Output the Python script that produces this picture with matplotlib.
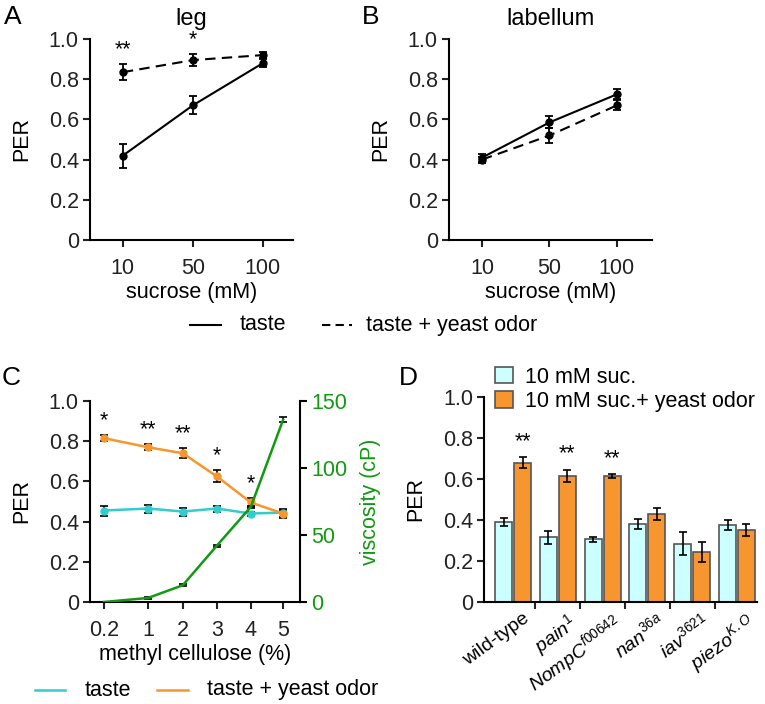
import numpy as np
import matplotlib.pyplot as plt
import matplotlib.transforms as mtransforms

plt.rcParams['font.family'] = ['Liberation Sans', 'DejaVu Sans']
plt.rcParams['mathtext.fontset'] = 'custom'
plt.rcParams['mathtext.rm'] = 'Liberation Sans'
plt.rcParams['mathtext.it'] = 'Liberation Sans:italic'
plt.rcParams['font.size'] = 15

FS = 15.5

# panel A / B: sucrose
sucrose = ['10', '50', '100']
leg_taste = [0.42, 0.67, 0.88]
leg_taste_err = [0.06, 0.045, 0.02]
leg_odor = [0.835, 0.895, 0.92]
leg_odor_err = [0.04, 0.03, 0.015]
leg_stars = ['**', '*', '']

lab_taste = [0.41, 0.585, 0.725]
lab_taste_err = [0.02, 0.03, 0.025]
lab_odor = [0.40, 0.52, 0.67]
lab_odor_err = [0.015, 0.035, 0.025]

# panel C: methyl cellulose
mc = ['0.2', '1', '2', '3', '4', '5']
mc_taste = [0.455, 0.465, 0.45, 0.465, 0.44, 0.445]
mc_taste_err = [0.025, 0.02, 0.02, 0.015, 0.01, 0.02]
mc_odor = [0.815, 0.77, 0.74, 0.625, 0.495, 0.44]
mc_odor_err = [0.015, 0.015, 0.025, 0.03, 0.02, 0.02]
mc_stars = ['*', '**', '**', '*', '*', '']
viscosity = [0, 3, 12.5, 42, 71, 136]
viscosity_err = [0, 0.8, 0.8, 0.8, 1, 2]

# panel D: mutants
genotypes = ['wild-type', r'$\mathit{pain}^{\mathit{1}}$', r'$\mathit{NompC}^{\mathit{f00642}}$',
             r'$\mathit{nan}^{\mathit{36a}}$', r'$\mathit{iav}^{\mathit{3621}}$', r'$\mathit{piezo}^{\mathit{K.O}}$']
suc = [0.39, 0.315, 0.305, 0.38, 0.285, 0.375]
suc_err = [0.02, 0.03, 0.01, 0.025, 0.055, 0.025]
suc_odor = [0.68, 0.615, 0.615, 0.43, 0.245, 0.35]
suc_odor_err = [0.025, 0.03, 0.01, 0.03, 0.05, 0.03]
d_stars = ['**', '**', '**', '', '', '']

CYAN = '#33cccc'
ORANGE = '#f7962e'
GREEN = '#129912'

fig = plt.figure(figsize=(7.65, 7.04), dpi=100)


def style(ax):
    ax.spines['top'].set_visible(False)
    ax.spines['right'].set_visible(False)
    ax.spines['left'].set_linewidth(1.5)
    ax.spines['bottom'].set_linewidth(1.5)
    ax.tick_params(direction='out', length=5, width=1.5, labelsize=FS, colors='#222222', pad=3)
    ax.set_ylim(0, 1.0)
    ax.set_yticks([0, 0.2, 0.4, 0.6, 0.8, 1.0])
    ax.set_yticklabels(['0', '0.2', '0.4', '0.6', '0.8', '1.0'])
    ax.set_ylabel('PER', fontsize=FS, labelpad=12)


def sucrose_panel(rect, taste, terr, odor, oerr, title, xlim, stars=None):
    ax = fig.add_axes(rect)
    style(ax)
    x = np.arange(len(sucrose))
    ax.errorbar(x, taste, yerr=terr, color='black', lw=1.5, marker='o', ms=5,
                capsize=3, elinewidth=1.3, capthick=1.3, clip_on=False)
    ax.errorbar(x, odor, yerr=oerr, color='black', lw=1.5, ls=(0, (5, 3)), marker='o', ms=5,
                capsize=3, elinewidth=1.3, capthick=1.3, clip_on=False)
    ax.set_xticks(x)
    ax.set_xticklabels(sucrose)
    ax.tick_params(axis='x', pad=8)
    ax.set_xlim(*xlim)
    ax.set_xlabel('sucrose (mM)', fontsize=FS, labelpad=2)
    ax.set_title(title, fontsize=17, pad=10)
    if stars:
        for xi, s, v, e in zip(x, stars, odor, oerr):
            if s:
                ax.text(xi, v + e + 0.02, s, ha='center', va='bottom', fontsize=FS)
    return ax


axA = sucrose_panel([0.1176, 0.6591, 0.2654, 0.2855], leg_taste, leg_taste_err,
                    leg_odor, leg_odor_err, 'leg', (-0.47, 2.43), leg_stars)
axB = sucrose_panel([0.5869, 0.6591, 0.2654, 0.2855], lab_taste, lab_taste_err,
                    lab_odor, lab_odor_err, 'labellum', (-0.49, 2.52))

# legend A/B
ly = 1 - 325 / 704
fig.lines.append(plt.Line2D([190 / 765, 221 / 765], [ly] * 2, color='black', lw=1.5,
                            transform=fig.transFigure))
fig.text(240 / 765, ly, 'taste', va='center', fontsize=FS)
fig.lines.append(plt.Line2D([322 / 765, 352 / 765], [ly] * 2, color='black', lw=1.5,
                            ls=(0, (4, 2.5)), transform=fig.transFigure))
fig.text(366 / 765, ly, 'taste + yeast odor', va='center', fontsize=FS)

# panel C
axC = fig.add_axes([0.1176, 0.1449, 0.2745, 0.2855])
style(axC)
xc = [0, 1.23, 2.2, 3.15, 4.1, 5.0]
axC.errorbar(xc, mc_taste, yerr=mc_taste_err, color=CYAN, lw=1.8, marker='o', ms=5,
             ecolor='black', capsize=3, elinewidth=1.2, capthick=1.2)
axC.errorbar(xc, mc_odor, yerr=mc_odor_err, color=ORANGE, lw=1.8, marker='o', ms=5,
             ecolor='black', capsize=3, elinewidth=1.2, capthick=1.2)
for xi, s, v, e in zip(xc, mc_stars, mc_odor, mc_odor_err):
    if s:
        axC.text(xi, v + e + 0.02, s, ha='center', va='bottom', fontsize=FS)
axC.set_xticks(xc)
axC.set_xticklabels(mc)
axC.tick_params(axis='x', pad=8)
axC.set_xlim(-0.39, 5.47)
axC.set_xlabel('methyl cellulose (%)', fontsize=FS, labelpad=2)

axV = axC.twinx()
axV.errorbar(xc, viscosity, yerr=viscosity_err, color=GREEN, lw=1.8,
             ecolor='black', capsize=3, elinewidth=1.2, capthick=1.2, zorder=5)
axV.set_ylim(0, 150)
axV.set_yticks([0, 50, 100, 150])
axV.spines['top'].set_visible(False)
axV.spines['left'].set_visible(False)
axV.spines['bottom'].set_visible(False)
axV.spines['right'].set_linewidth(1.5)
axV.tick_params(direction='out', length=5, width=1.5, labelsize=FS, labelcolor=GREEN, pad=3)
axV.set_ylabel('viscosity (cP)', color=GREEN, fontsize=FS, labelpad=9)

# legend C
ly = 1 - 690 / 704
fig.lines.append(plt.Line2D([35 / 765, 65 / 765], [ly] * 2, color=CYAN, lw=1.8, transform=fig.transFigure))
fig.text(85 / 765, ly, 'taste', va='center', fontsize=FS)
fig.lines.append(plt.Line2D([157 / 765, 188 / 765], [ly] * 2, color=ORANGE, lw=1.8, transform=fig.transFigure))
fig.text(207 / 765, ly, 'taste + yeast odor', va='center', fontsize=FS)

# panel D
axD = fig.add_axes([0.6327, 0.1449, 0.3569, 0.2912])
style(axD)
xd = np.arange(len(genotypes))
w = 0.38
axD.bar(xd - 0.21, suc, w, color='#ccffff', edgecolor='#555555', lw=1.2, label='10 mM suc.')
axD.bar(xd + 0.21, suc_odor, w, color=ORANGE, edgecolor='#555555', lw=1.2, label='10 mM suc.+ yeast odor')
axD.errorbar(xd - 0.21, suc, yerr=suc_err, fmt='none', ecolor='black', capsize=3, elinewidth=1.2, capthick=1.2)
axD.errorbar(xd + 0.21, suc_odor, yerr=suc_odor_err, fmt='none', ecolor='black', capsize=3, elinewidth=1.2, capthick=1.2)
for xi, s, v, e in zip(xd, d_stars, suc_odor, suc_odor_err):
    if s:
        axD.text(xi + 0.21, v + e + 0.025, s, ha='center', va='bottom', fontsize=FS)
axD.set_xlim(-0.65, 5.45)
axD.set_xticks(xd[:-1] + 0.5)
axD.set_xticklabels([])
axD.set_xticks(xd, minor=True)
axD.set_xticklabels(genotypes, minor=True, rotation=36, ha='right', rotation_mode='anchor', fontsize=14)
axD.tick_params(axis='x', which='minor', length=0, pad=6)
shift = mtransforms.ScaledTranslation(9 / 100, 0, fig.dpi_scale_trans)
for lab in axD.get_xticklabels(minor=True):
    lab.set_transform(lab.get_transform() + shift)
axD.legend(loc='upper left', bbox_to_anchor=(0.01, 1.19), frameon=False, fontsize=FS,
           handlelength=0.8, handleheight=0.8, handletextpad=0.6, labelspacing=0.15, borderaxespad=0)

# panel letters
fig.text(4 / 765, 1 - 17 / 704, 'A', fontsize=19, va='center')
fig.text(362 / 765, 1 - 17 / 704, 'B', fontsize=19, va='center')
fig.text(2 / 765, 1 - 378 / 704, 'C', fontsize=19, va='center')
fig.text(399 / 765, 1 - 378 / 704, 'D', fontsize=19, va='center')

fig.savefig('out.png', dpi=100)
